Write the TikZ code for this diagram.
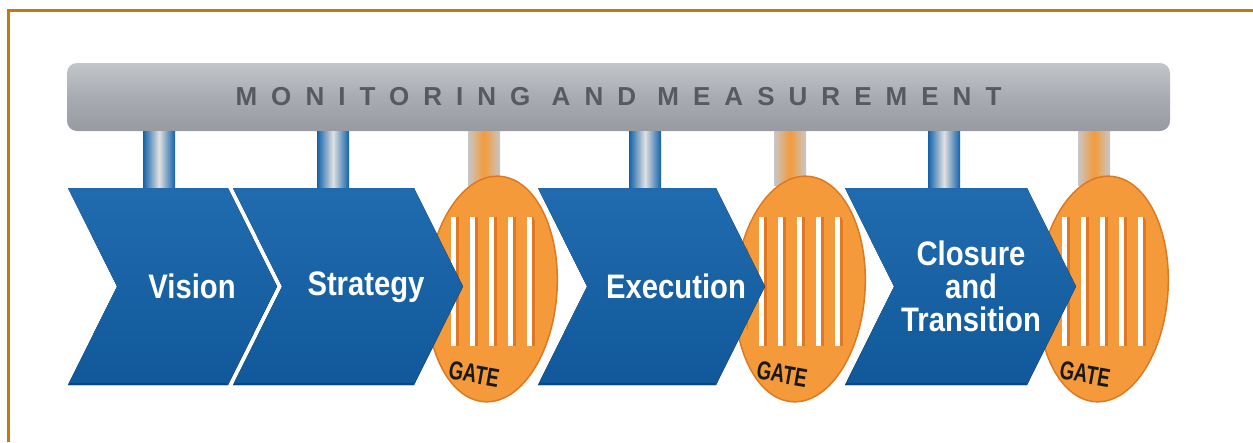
\documentclass[tikz,border=0pt]{standalone}
\usepackage{fontspec}
\setmainfont{Liberation Sans}
\newfontfamily\condfont[FakeStretch=0.86]{Liberation Sans}
\newfontfamily\gatefont[FakeStretch=0.72]{Liberation Sans}
\usepackage{tikz}
\usetikzlibrary{shapes.geometric,positioning,calc}
\definecolor{stageblue}{RGB}{18,98,170}
\definecolor{stagedark}{RGB}{10,70,135}
\definecolor{gateorange}{RGB}{245,154,58}
\definecolor{gatedark}{RGB}{222,120,34}
\definecolor{bargrey}{RGB}{168,172,178}
\definecolor{bartext}{RGB}{88,90,95}
\definecolor{framebrown}{RGB}{192,122,20}
\tikzstyle{monitorbar}=[rounded corners=10pt,minimum width=1103pt,minimum height=68pt,
  top color=bargrey!70!white,bottom color=bargrey!90!black,middle color=bargrey,
  text=bartext,font=\bfseries\fontsize{26pt}{26pt}\selectfont\addfontfeature{LetterSpace=54}]
\tikzstyle{stage}=[top color=stageblue!94!white,bottom color=stageblue!90!black]
\tikzstyle{stagetext}=[text=white,align=center,inner sep=0pt,
  font=\condfont\bfseries\fontsize{34pt}{33pt}\selectfont]
\tikzstyle{gate}=[ellipse,draw=gatedark,line width=1.5pt,fill=gateorange,
  minimum width=130pt,minimum height=226pt,inner sep=0pt,rotate=-4]
\tikzstyle{gatetext}=[text=black!90,rotate=-10,inner sep=0pt,
  font=\gatefont\bfseries\fontsize{26pt}{26pt}\selectfont]
\tikzstyle{bluepost}=[left color=stageblue,right color=stageblue,middle color=black!12]
\tikzstyle{orangepost}=[left color=black!22,right color=black!22,middle color=gateorange]

\begin{document}
\begin{tikzpicture}[x=1pt,y=-1pt]
  \useasboundingbox (0,0) rectangle (1253,442);
  % frame
  \draw[framebrown,line width=3pt] (8,442) -- (8,10) -- (1253,10);

  % monitoring bar
  \node [monitorbar] (monitor) at (618.5,97) {MONITORING AND MEASUREMENT};

  % posts
  \foreach \x in {159,333,645,944}
    \fill [bluepost] (\x-16,0 |- monitor.south) rectangle (\x+16,190);
  \foreach \x in {484,790,1094}
    \fill [orangepost] (\x-16,0 |- monitor.south) rectangle (\x+16,185);

  % gates
  \foreach \cx [count=\i] in {492,800,1103} {
    \node [gate] (gate\i) at (\cx,289) {};
    \begin{scope}
      \clip (gate\i.center) ellipse [x radius=57pt,y radius=104pt];
      \foreach \dx in {-58,-39,-20,-1,18,37} {
        \fill [gatedark] (\cx+\dx+2.5,217) rectangle (\cx+\dx+6,346);
        \fill [white] (\cx+\dx-2.5,217) rectangle (\cx+\dx+2.5,346);
      }
    \end{scope}
    \node [gatetext] (gatelabel\i) at ($(gate\i.center)+(-18,85)$) {GATE};
  }

  % stages
  \foreach \l/\r in {68/228,233/414,538/716,845/1027} {
    \fill [stage] (\l,188) -- (\r,188) -- (\r+49,286.5) -- (\r,385)
      -- (\l,385) -- (\l+49,286.5) -- cycle;
    \draw [stagedark,line width=2.5pt] (\l+1,384) -- (\r-1,384);
  }
  \node [stagetext] (vision) at (192,286) {Vision};
  \node [stagetext] (strategy) at (366,287) {Strategy};
  \node [stagetext] (execution) at (676,286) {Execution};
  \node [stagetext] (closure) at (971,286) {Closure\\and\\Transition};
\end{tikzpicture}
\end{document}
